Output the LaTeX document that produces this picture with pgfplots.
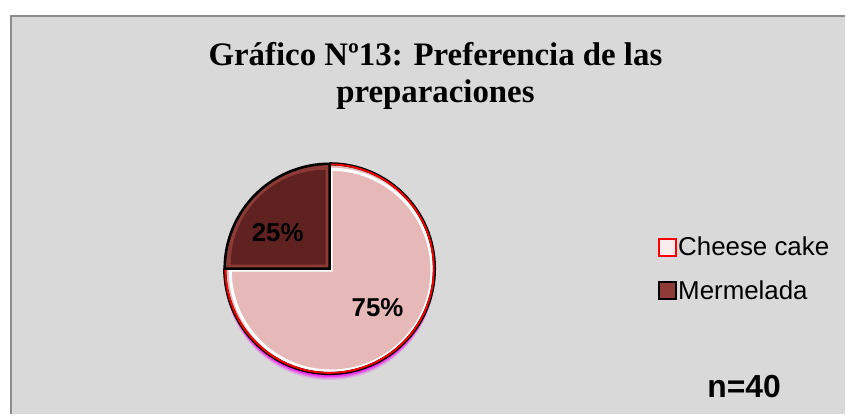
\documentclass[border=0pt]{standalone}
\usepackage{pgfplots}
\pgfplotsset{compat=1.18}
\usepackage{pgfplotstable}
\usepackage{fontspec}
\setmainfont{Liberation Serif}
\setsansfont{Liberation Sans}
\definecolor{bggray}{HTML}{D9D9D9}
\definecolor{framegray}{HTML}{8C8C8C}
\definecolor{cheese}{HTML}{E6B9B8}
\definecolor{merm}{HTML}{5F2220}
\definecolor{mermlight}{HTML}{8E3B38}
\definecolor{glow}{HTML}{F020F0}

\pgfplotstableread{
label value
Cheese 75
Mermelada 25
}\piedata
\pgfplotstablegetelem{0}{value}\of\piedata \let\vA\pgfplotsretval
\pgfplotstablegetelem{1}{value}\of\piedata \let\vB\pgfplotsretval
\pgfmathsetmacro\total{\vA+\vB}
\pgfmathsetmacro\fA{\vA/\total}
\pgfmathsetmacro\fB{\vB/\total}
\pgfmathsetmacro\aA{90-360*\fA}
\pgfmathsetmacro\aB{\aA-360*\fB}
\pgfmathtruncatemacro\pA{round(100*\fA)}
\pgfmathtruncatemacro\pB{round(100*\fB)}
\def\cx{330}
\def\cy{146}
\def\R{105}

\begin{document}
\begin{tikzpicture}
\begin{axis}[
  at={(0,0)}, anchor=origin,
  width=846bp, height=415bp, scale only axis,
  xmin=0, xmax=846, ymin=0, ymax=415,
  hide axis, clip=false,
  legend image code/.code={\draw[#1] (0bp,-8.5bp) rectangle (17bp,8.5bp);},
  legend style={at={(axis cs:659,179)}, anchor=north west, draw=none, fill=none,
    font=\sffamily\fontsize{26}{26}\selectfont, row sep=20bp,
    inner sep=0pt, outer sep=0pt,
    nodes={inner sep=1.5bp, anchor=west}},
  legend cell align=left,
]
% background and frame
\fill[white] (axis cs:0,0) rectangle (axis cs:846,415);
\fill[bggray] (axis cs:11,0) rectangle (axis cs:846,399);
\draw[framegray, line width=2.2bp] (axis cs:11,0) -- (axis cs:11,399) -- (axis cs:846,399);

% title
\node[font=\bfseries\fontsize{33}{37}\selectfont, align=center, anchor=base] at (axis cs:436,349) {Gráfico Nº13: Preferencia de las};
\node[font=\bfseries\fontsize{33}{37}\selectfont, align=center, anchor=base] at (axis cs:436,312) {preparaciones};

% glow under pie
\fill[glow, opacity=0.2] (axis cs:330,139.5) circle[radius=105bp];
\fill[glow, opacity=0.4] (axis cs:330,141) circle[radius=105bp];
\fill[glow, opacity=0.7] (axis cs:330,142.5) circle[radius=105bp];
\fill[glow, opacity=0.9] (axis cs:330,144) circle[radius=105bp];

% Cheese cake slice
\fill[cheese] (axis cs:\cx,\cy) -- ++(90:\R bp) arc[start angle=90, end angle=\aA, radius=\R bp] -- cycle;
\draw[white, line width=3bp] (axis cs:\cx+1.5,\cy-1.5) -- ++(90:\R bp-4bp) arc[start angle=90, end angle=\aA, radius=\R bp-4bp] -- cycle;
\draw[black, line width=3.2bp] (axis cs:\cx,\cy) ++(90:\R bp) arc[start angle=90, end angle=\aA, radius=\R bp];
\draw[red, line width=1.8bp] (axis cs:\cx,\cy) ++(90:\R bp-0.6bp) arc[start angle=90, end angle=\aA, radius=\R bp-0.6bp];
\draw[red, line width=1.2bp] (axis cs:\cx,\cy+\R) -- (axis cs:\cx,\cy);

% Mermelada slice
\fill[mermlight] (axis cs:\cx,\cy) -- ++(\aA:\R bp) arc[start angle=\aA, end angle=\aB, radius=\R bp] -- cycle;
\fill[merm] (axis cs:\cx-4,\cy+4) -- ++(\aA:\R bp-10bp) arc[start angle=\aA, end angle=\aB, radius=\R bp-10bp] -- cycle;
\draw[black, line width=2.6bp, line join=miter] (axis cs:\cx,\cy) -- ++(\aA:\R bp) arc[start angle=\aA, end angle=\aB, radius=\R bp] -- cycle;

% labels
\node[font=\sffamily\bfseries\fontsize{26}{26}\selectfont] at (axis cs:278,182) {\pB\%};
\node[font=\sffamily\bfseries\fontsize{26}{26}\selectfont] at (axis cs:378,107) {\pA\%};
\node[font=\sffamily\bfseries\fontsize{32}{32}\selectfont] at (axis cs:745,28) {n=40};

% legend
\addlegendimage{draw=red, line width=1.6bp, fill=cheese!25!white}
\addlegendentry{Cheese cake}
\addlegendimage{draw=black, line width=1.6bp, fill=mermlight}
\addlegendentry{Mermelada}
\end{axis}
\end{tikzpicture}
\end{document}
